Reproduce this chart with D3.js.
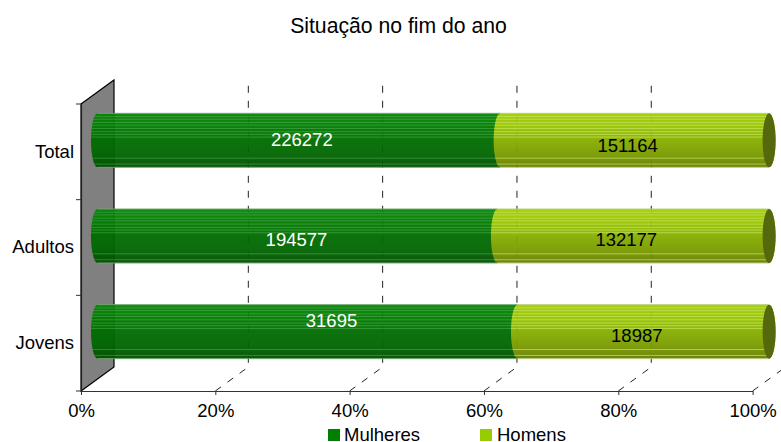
<!DOCTYPE html>
<html>
<head>
<meta charset="utf-8">
<script src="https://cdn.jsdelivr.net/npm/d3@7"></script>
<style>
	html, body { margin: 0; padding: 0; background: #fff; }
	svg { display: block; }
	text { font-family: "Liberation Sans", Arial, sans-serif; fill: #000; }
</style>
</head>
<body>
<div id="chart"></div>
<script>
// data
var categories = ["Total", "Adultos", "Jovens"];
var mulheres = [226272, 194577, 31695];
var homens = [151164, 132177, 18987];
var seriesNames = ["Mulheres", "Homens"];
var tickValues = [0, 0.2, 0.4, 0.6, 0.8, 1];

// settings
var svgWidth = 781;
var svgHeight = 442;
var plot = { left: 81, right: 752.6, top: 104, bottom: 391 };
var depth = { x: 33, y: -24 };
var barHeight = 54;
var capRadius = 6.5;
var fontSize = 18.5;

// nudges of the value labels, the original ones are not centred
var labelNudges = [
	[{ x: 3, y: 0.5 }, { x: -7, y: 6.5 }],
	[{ x: -1, y: 5.5 }, { x: -7, y: 5.5 }],
	[{ x: 24, y: -10 }, { x: -6.5, y: 5 }]
];
// where the thin lighter lines run on a bar, as part of its height
var stripes = [0.06, 0.11, 0.17, 0.22, 0.28, 0.34, 0.39, 0.44, 0.83, 0.94];

var table = categories.map((c, i) => ({ category: c, Mulheres: mulheres[i], Homens: homens[i] }));
var stacked = d3.stack().keys(seriesNames).offset(d3.stackOffsetExpand)(table);

var x = d3.scaleLinear().domain([0, 1]).range([plot.left, plot.right]);
var y = d3.scaleBand().domain(categories).range([plot.top, plot.bottom]);

var svg = d3.select("#chart").append("svg")
	.attr("width", svgWidth)
	.attr("height", svgHeight);

// gradients for the cylinders
var defs = svg.append("defs");
var looks = [
	{ id: "gradMulheres", stops: ["#088408", "#007a00", "#006c00", "#006600", "#004e00"], cap: "#005000", rim: "#6fa86f", text: "#fff", stripe: "#4cab4c", stripeOpacity: 0.55 },
	{ id: "gradHomens", stops: ["#a2ce00", "#98c400", "#86ae00", "#7a9c00", "#667f00"], cap: "#4c6000", rim: "#b9cc80", text: "#000", stripe: "#c4e45c", stripeOpacity: 0.7 }
];
looks.forEach(function (look) {
	var grad = defs.append("linearGradient")
		.attr("id", look.id)
		.attr("x1", 0).attr("y1", 0).attr("x2", 0).attr("y2", 1);
	look.stops.forEach(function (color, i) {
		grad.append("stop")
			.attr("offset", i / (look.stops.length - 1))
			.attr("stop-color", color);
	});
});

// back wall
var wall = d3.path();
wall.moveTo(x(0), plot.top);
wall.lineTo(x(0) + depth.x, plot.top + depth.y);
wall.lineTo(x(0) + depth.x, plot.bottom + depth.y);
wall.lineTo(x(0), plot.bottom);
wall.closePath();
svg.append("path")
	.attr("d", wall.toString())
	.attr("fill", "#808080")
	.attr("stroke", "#000")
	.attr("stroke-width", 1.2);

// gridlines, floor part and back part
var gridGroup = svg.append("g");
tickValues.slice(1).forEach(function (t) {
	var line = d3.path();
	line.moveTo(x(t), plot.bottom);
	line.lineTo(x(t) + depth.x, plot.bottom + depth.y);
	line.lineTo(x(t) + depth.x, plot.top + depth.y);
	gridGroup.append("path")
		.attr("d", line.toString())
		.attr("fill", "none")
		.attr("stroke", "#222")
		.attr("stroke-width", 1)
		.attr("stroke-dasharray", "7,8");
});

// cylinder outline from one stack position to the other
function barPath(start, end, top) {
	var ry = barHeight / 2;
	var bottom = top + barHeight;
	return `M${start},${top} A${capRadius},${ry} 0 0 0 ${start},${bottom} L${end},${bottom} A${capRadius},${ry} 0 0 0 ${end},${top} Z`;
}

function barX(v) { return x(v) + depth.x / 2; }
function barTop(c) { return y(c) + y.bandwidth() / 2 + depth.y / 2 - barHeight / 2 + 0.5; }

var barsGroup = svg.append("g").attr("opacity", 0.95);

stacked.forEach(function (layer, s) {
	var look = looks[s];
	layer.forEach(function (d, i) {
		var c = d.data.category;
		var top = barTop(c);
		var shape = barPath(barX(d[0]), barX(d[1]), top);
		var clipId = `clip${s}${i}`;
		defs.append("clipPath").attr("id", clipId).append("path").attr("d", shape);
		var g = barsGroup.append("g");
		g.append("path")
			.attr("d", shape)
			.attr("fill", `url(#${look.id})`);
		g.append("g")
			.attr("clip-path", `url(#${clipId})`)
			.selectAll("line")
			.data(stripes)
			.enter()
			.append("line")
			.attr("x1", barX(d[0]) - capRadius)
			.attr("x2", barX(d[1]) + capRadius)
			.attr("y1", f => top + f * barHeight)
			.attr("y2", f => top + f * barHeight)
			.attr("stroke", look.stripe)
			.attr("stroke-opacity", look.stripeOpacity)
			.attr("stroke-width", 1);
		// rim along the top and bottom edge only
		[top, top + barHeight].forEach(function (edge) {
			g.append("line")
				.attr("x1", barX(d[0]))
				.attr("x2", barX(d[1]))
				.attr("y1", edge)
				.attr("y2", edge)
				.attr("stroke", look.rim)
				.attr("stroke-width", 1);
		});
		// only the last segment shows its end
		if (s === stacked.length - 1)
			g.append("ellipse")
				.attr("cx", barX(d[1]))
				.attr("cy", top + barHeight / 2)
				.attr("rx", capRadius)
				.attr("ry", barHeight / 2)
				.attr("fill", look.cap);
	});
});

// value labels
stacked.forEach(function (layer, s) {
	layer.forEach(function (d, i) {
		var nudge = labelNudges[i][s];
		svg.append("text")
			.attr("x", (barX(d[0]) + barX(d[1])) / 2 + nudge.x)
			.attr("y", barTop(d.data.category) + barHeight / 2 + nudge.y)
			.attr("text-anchor", "middle")
			.attr("dominant-baseline", "middle")
			.attr("font-size", fontSize)
			.style("fill", looks[s].text)
			.text(d.data[layer.key]);
	});
});

// axes
var bottomAxis = d3.axisBottom(x)
	.tickValues(tickValues)
	.tickFormat(d3.format(".0%"))
	.tickSizeInner(4)
	.tickSizeOuter(0)
	.tickPadding(9);
var xAxis = svg.append("g")
	.attr("transform", `translate(0, ${plot.bottom})`)
	.call(bottomAxis);
xAxis.selectAll("text").attr("font-size", fontSize);
xAxis.select(".domain").attr("stroke", "#333").attr("stroke-width", 1.2);
xAxis.selectAll("line").attr("stroke", "#333");

var leftAxis = d3.axisLeft(y).tickSize(0).tickPadding(7);
var yAxis = svg.append("g")
	.attr("transform", `translate(${plot.left}, 0)`)
	.call(leftAxis);
yAxis.selectAll("text").attr("font-size", fontSize).attr("dy", "0.32em");
yAxis.select(".domain").attr("stroke", "#222").attr("stroke-width", 1.2);

// tick marks between the categories
svg.append("g")
	.selectAll("line")
	.data(d3.range(categories.length + 1))
	.enter()
	.append("line")
	.attr("x1", plot.left - 5)
	.attr("x2", plot.left)
	.attr("y1", i => plot.top + i * y.step())
	.attr("y2", i => plot.top + i * y.step())
	.attr("stroke", "#333");

// title
svg.append("text")
	.attr("x", 398.5)
	.attr("y", 33)
	.attr("text-anchor", "middle")
	.attr("font-size", 21.2)
	.text("Situação no fim do ano");

// legend
var legendX = [328, 480];
var legend = svg.selectAll(".legend")
	.data(seriesNames)
	.enter()
	.append("g")
	.attr("class", "legend")
	.attr("transform", (d, i) => `translate(${legendX[i]}, 429)`);
legend.append("rect")
	.attr("width", 12)
	.attr("height", 12)
	.attr("fill", (d, i) => ["#008000", "#99cc00"][i]);
legend.append("text")
	.attr("x", (d, i) => [16, 17][i])
	.attr("y", 11.5)
	.attr("font-size", fontSize)
	.text(d => d);
</script>
</body>
</html>
